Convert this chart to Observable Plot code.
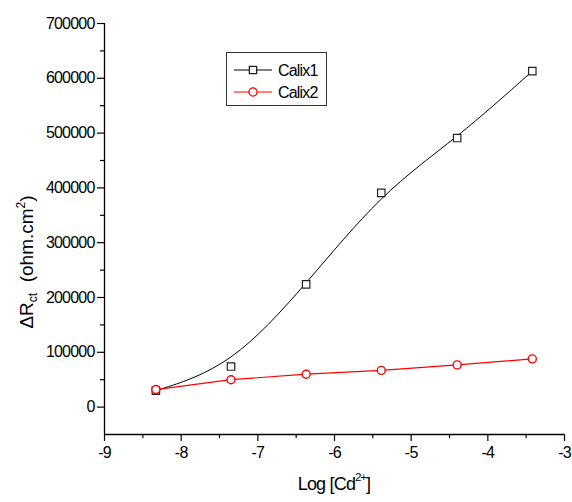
<!DOCTYPE html>
<html>
<head>
<meta charset="utf-8">
<script src="https://cdn.jsdelivr.net/npm/d3@7"></script>
<script src="https://cdn.jsdelivr.net/npm/@observablehq/plot@0.6"></script>
<style>
  html, body { margin: 0; padding: 0; background: white; }
  #chart { position: relative; width: 572px; height: 502px; }
  svg text { letter-spacing: -0.8px; }
  svg text.ylab { letter-spacing: 0px; }
</style>
</head>
<body>
<div id="chart"></div>
<script>
// Data
const logCd = [-8.33, -7.35, -6.37, -5.39, -4.40, -3.42];
const calix1 = [30000, 74000, 224000, 391000, 491000, 613000];
const calix2 = [32000, 50000, 60000, 67000, 77000, 88000];
const seriesNames = ["Calix1", "Calix2"];
const xMajor = [-9, -8, -7, -6, -5, -4, -3];
const xMinor = [-8.5, -7.5, -6.5, -5.5, -4.5, -3.5];
const yMajor = [0, 100000, 200000, 300000, 400000, 500000, 600000, 700000];
const yMinor = [50000, 150000, 250000, 350000, 450000, 550000, 650000];

const d1 = logCd.map((v, i) => ({x: v, y: calix1[i]}));
const d2 = logCd.map((v, i) => ({x: v, y: calix2[i]}));

const font = "Liberation Sans, Arial, Helvetica, sans-serif";

const plot = Plot.plot({
  width: 572,
  height: 502,
  marginLeft: 104,
  marginRight: 8,
  marginTop: 23,
  marginBottom: 68,
  style: {fontFamily: font, fontSize: "16px", color: "black", background: "white"},
  x: {domain: [-9, -3]},
  y: {domain: [-50000, 700000]},
  marks: [
    Plot.axisY(yMajor, {tickSize: 7, tickPadding: 3, tickFormat: d => String(d), label: null, fontSize: 16, strokeWidth: 1.2}),
    Plot.axisY(yMinor, {tickSize: 4, tickFormat: () => "", label: null, strokeWidth: 1.2}),
    Plot.axisX(xMajor, {tickSize: 7, tickPadding: 5, tickFormat: d => String(d), label: null, fontSize: 16, strokeWidth: 1.2}),
    Plot.axisX(xMinor, {tickSize: 4, tickFormat: () => "", label: null, strokeWidth: 1.2}),
    Plot.ruleX([-9], {stroke: "black", strokeWidth: 1.3}),
    Plot.ruleY([-50000], {stroke: "black", strokeWidth: 1.3}),
    Plot.line(d1, {x: "x", y: "y", curve: "basis", stroke: "black", strokeWidth: 1}),
    Plot.line(d2, {x: "x", y: "y", stroke: "red", strokeWidth: 1.2}),
    Plot.dot(d1, {x: "x", y: "y", symbol: "square", r: 4.2, stroke: "#222", strokeWidth: 1.2, fill: "white"}),
    Plot.dot(d2, {x: "x", y: "y", symbol: "circle", r: 4, stroke: "red", strokeWidth: 1.4, fill: "white"})
  ]
});

document.getElementById("chart").appendChild(plot);
const svg = d3.select(plot);

// Y axis label
const yl = svg.append("text")
  .attr("class", "ylab")
  .attr("transform", "translate(33,262) rotate(-90)")
  .attr("text-anchor", "middle")
  .attr("font-family", font)
  .attr("font-size", 19)
  .attr("fill", "black");
yl.append("tspan").text("ΔR");
yl.append("tspan").attr("font-size", 12).attr("dy", 4).text("ct");
yl.append("tspan").attr("dy", -4).text("  (ohm.cm");
yl.append("tspan").attr("font-size", 12).attr("dy", -8).text("2");
yl.append("tspan").attr("dy", 8).text(")");

// X axis label
const xl = svg.append("text")
  .attr("x", 334).attr("y", 490)
  .attr("text-anchor", "middle")
  .attr("font-family", font)
  .attr("font-size", 18)
  .attr("fill", "black");
xl.append("tspan").text("Log [Cd");
xl.append("tspan").attr("font-size", 11).attr("dy", -9).text("2+");
xl.append("tspan").attr("dy", 9).text("]");

// Legend
const lg = svg.append("g").attr("font-family", font).attr("font-size", 16).attr("text-anchor", "start");
lg.append("rect").attr("x", 226.5).attr("y", 52.5).attr("width", 100).attr("height", 53)
  .attr("fill", "white").attr("stroke", "#333").attr("stroke-width", 1);
const rows = [
  {name: seriesNames[0], color: "black", mk: "#222", y: 70, sym: d3.symbolSquare},
  {name: seriesNames[1], color: "red", mk: "red", y: 92, sym: d3.symbolCircle}
];
rows.forEach(r => {
  lg.append("line").attr("x1", 234).attr("x2", 272).attr("y1", r.y).attr("y2", r.y)
    .attr("stroke", r.color).attr("stroke-width", 1.1);
  lg.append("path").attr("d", d3.symbol(r.sym, Math.PI * 4.1 * 4.1)())
    .attr("transform", `translate(253,${r.y})`)
    .attr("fill", "white").attr("stroke", r.mk).attr("stroke-width", 1.3);
  lg.append("text").attr("x", 278).attr("y", r.y + 6).attr("text-anchor", "start").attr("fill", "black").text(r.name);
});
</script>
</body>
</html>
